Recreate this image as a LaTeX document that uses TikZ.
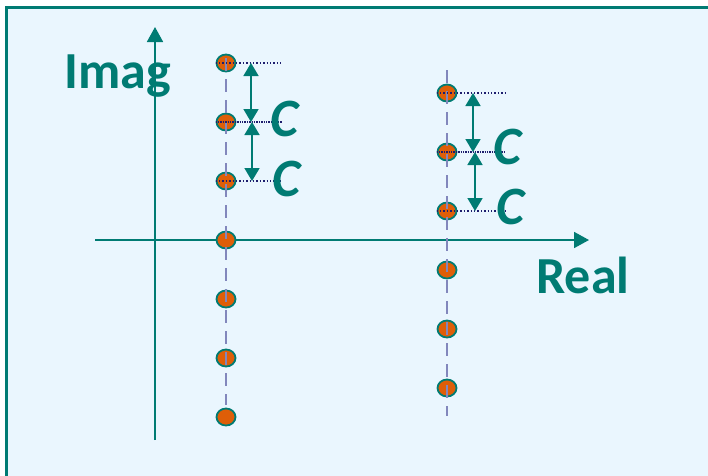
\documentclass[tikz,border=0pt]{standalone}
\usepackage{fontspec}
\setmainfont{Carlito}
\usetikzlibrary{arrows.meta,shapes.geometric,calc}
\definecolor{axteal}{RGB}{0,123,115}
\definecolor{bgblue}{RGB}{234,246,254}
\definecolor{poleor}{RGB}{222,94,8}
\definecolor{dashlav}{RGB}{130,135,188}
\definecolor{dotnavy}{RGB}{30,30,110}

\begin{document}
\begin{tikzpicture}[x=1pt,y=-1pt,
  axis/.style={draw=axteal,line width=1.8pt,-{Triangle[length=15pt,width=16pt]}},
  gap/.style={draw=axteal,line width=1.8pt,{Triangle[length=13pt,width=15pt]}-{Triangle[length=13pt,width=15pt]}},
  pole/.style={ellipse,draw=axteal,line width=1.8pt,fill=poleor,minimum width=19pt,minimum height=17pt,inner sep=0pt},
  column/.style={draw=dashlav,line width=2pt,dash pattern=on 13pt off 8pt},
  level/.style={draw=dotnavy,line width=1.4pt,dotted},
  lbl/.style={text=axteal,font=\fontsize{52}{52}\selectfont\bfseries,inner sep=0pt},
  clbl/.style={text=axteal,font=\fontsize{54}{54}\selectfont\bfseries\itshape,inner sep=0pt}]

\useasboundingbox (0,0) rectangle (708,475);
\draw[draw=axteal,fill=bgblue,line width=3pt] (6,7) rectangle (712,480);

% axes
\coordinate (ybot) at (155,440);
\coordinate (ytop) at (155,27);
\coordinate (xlft) at (95,240);
\coordinate (xrgt) at (589,240);
\draw[axis] (ybot) -- (ytop);
\draw[axis] (xlft) -- (xrgt);
\node[lbl,anchor=base] (imag) at (117.5,88) {Imag};
\node[lbl,anchor=base] (real) at (583,293) {Real};

% poles
\foreach \i/\y in {1/63,2/122,3/181,4/240,5/299,6/358,7/417}
  \node[pole] (L\i) at (226,\y) {};
\foreach \i/\y in {1/93,2/152,3/211,4/270,5/329,6/388}
  \node[pole] (R\i) at (447,\y) {};

\coordinate (ltop) at (226,58);
\coordinate (lbot) at (226,405);
\coordinate (rtop) at (447,70);
\coordinate (rbot) at (447,416);
\draw[column] (ltop) -- (lbot);
\draw[column] (rtop) -- (rbot);

% spacing
\draw[level] (L1.west) -- ($(L1)+(55,0)$);
\draw[level,densely dotted] (L2.west) -- ($(L2)+(56,0)$);
\draw[level] (L3.west) -- ($(L3)+(55,0)$);
\draw[level] (R1.west) -- ($(R1)+(58,0)$);
\draw[level,densely dotted] (R2.west) -- ($(R2)+(59,0)$);
\draw[level] (R3.west) -- ($(R3)+(58,0)$);

\draw[gap] ($(L1)+(25,0)$) -- ($(L2)+(25,0)$);
\draw[gap] ($(L2)+(26,0)$) -- ($(L3)+(26,0)$);
\draw[gap] ($(R1)+(26,0)$) -- ($(R2)+(26,0)$);
\draw[gap] ($(R2)+(28,0)$) -- ($(R3)+(28,0)$);

\node[clbl] (c1) at (284,118.5) {C};
\node[clbl] (c2) at (286,178.5) {C};
\node[clbl] (c3) at (507,146.5) {C};
\node[clbl] (c4) at (510,206.5) {C};
\end{tikzpicture}
\end{document}
